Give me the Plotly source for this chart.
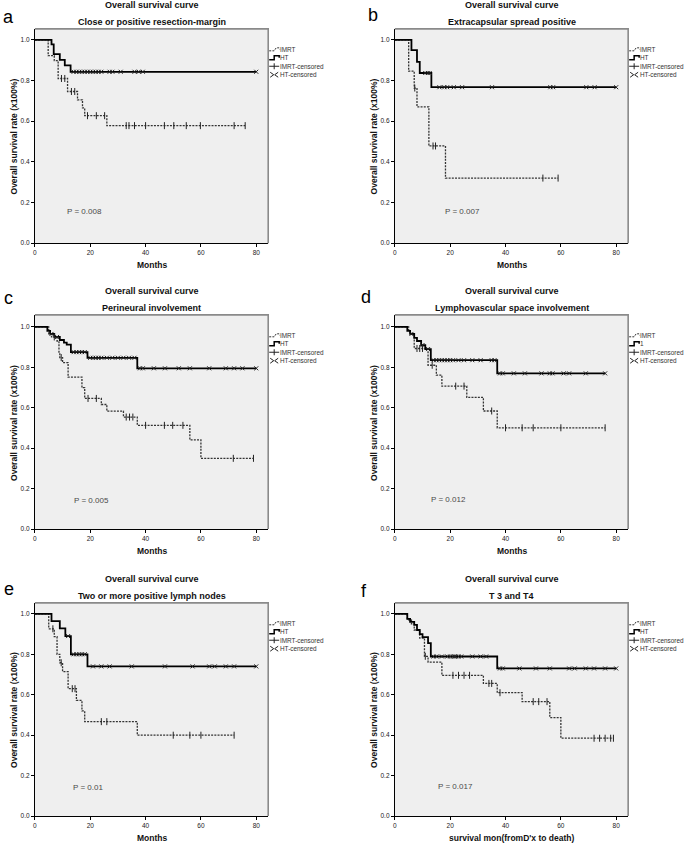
import plotly.graph_objects as go

W, H = 685, 848

# ---------------- data ----------------
# Panel a: Close or positive resection-margin
A_HT_T = [0, 6, 6.8, 9, 10.8, 12.9, 80]
A_HT_S = [1, 0.978, 0.93, 0.902, 0.874, 0.843, 0.843]
A_HT_C = [14, 15, 16, 17, 18, 19, 20, 21, 22, 23, 24, 27, 28, 31, 36, 37.5, 39, 80]
A_IM_T = [0, 4.8, 7, 8.4, 11.8, 15.4, 17.2, 18, 26, 76]
A_IM_S = [1, 0.922, 0.898, 0.81, 0.746, 0.705, 0.665, 0.627, 0.578, 0.578]
A_IM_C = [9.6, 10.8, 13.2, 14.4, 19, 22.2, 25.2, 33, 34, 36, 40, 46.8, 50.2, 54.7, 59.8, 72, 76]

# Panel b: Extracapsular spread positive
B_HT_T = [0, 6, 8, 9, 13.2, 80]
B_HT_S = [1, 0.95, 0.892, 0.837, 0.767, 0.767]
B_HT_C = [11, 11.9, 12.6, 16.1, 17.9, 18.9, 21.3, 24.3, 35.1, 56.2, 57.2, 69.2, 72.2, 80]
B_IM_T = [0, 5, 7, 8, 12.3, 18.3, 59]
B_IM_S = [1, 0.846, 0.763, 0.67, 0.478, 0.32, 0.32]
B_IM_C = [7.2, 13.8, 14.7, 53.5, 59]

# Panel c: Perineural involvement
C_HT_T = [0, 4.5, 5.5, 7, 9, 10.5, 11.5, 13, 19, 37, 80]
C_HT_S = [1, 0.98, 0.965, 0.95, 0.935, 0.922, 0.912, 0.875, 0.847, 0.795, 0.795]
C_HT_C = [6, 8, 14, 15, 16, 17, 18, 20, 21, 22, 23, 24, 26, 28, 30, 32, 34, 36,
          38, 39, 43, 47, 52, 56, 63, 69, 72, 75, 80]
C_IM_T = [0, 5, 6, 8, 8.7, 9, 10, 12, 17, 18, 24, 26, 32, 37, 56, 60, 79]
C_IM_S = [1, 0.965, 0.95, 0.93, 0.875, 0.848, 0.823, 0.751, 0.699, 0.646, 0.616,
          0.583, 0.554, 0.513, 0.441, 0.35, 0.35]
C_IM_C = [7, 9.5, 19.2, 22.2, 33, 34.2, 35.4, 40, 46.8, 49.8, 53.5, 71.7, 79]

# Panel d: Lymphovascular space involvement
D_HT_T = [0, 4.5, 5.5, 7, 8, 9.5, 11, 13, 37, 76]
D_HT_S = [1, 0.98, 0.965, 0.945, 0.93, 0.91, 0.89, 0.835, 0.77, 0.77]
D_HT_C = [6, 10, 12, 14, 15, 16, 17, 18, 19, 20, 21, 23, 25, 28, 31, 35, 36,
          38, 39, 43, 47, 53, 56, 57, 61, 63, 69, 76]
D_IM_T = [0, 5, 6, 7, 12, 15, 17, 26, 32, 37, 76]
D_IM_S = [1, 0.975, 0.96, 0.893, 0.81, 0.761, 0.707, 0.651, 0.584, 0.501, 0.501]
D_IM_C = [8, 9, 10, 13.5, 22, 25, 35, 40, 46, 50, 60, 76]

# Panel e: Two or more positive lymph nodes
E_HT_T = [0, 6, 9, 11, 13, 19, 80]
E_HT_S = [1, 0.964, 0.928, 0.89, 0.80, 0.74, 0.74]
E_HT_C = [12, 14, 15, 16, 17, 18, 21, 24, 27, 35, 47, 57, 63, 65, 69, 72, 80]
E_IM_T = [0, 5, 7, 8, 9, 10, 12, 15, 17, 18, 37, 72]
E_IM_S = [1, 0.926, 0.887, 0.80, 0.758, 0.714, 0.63, 0.572, 0.52, 0.467, 0.40, 0.40]
E_IM_C = [6.5, 9.5, 13.5, 14.5, 24, 26, 50, 56, 60, 72]

# Panel f: T3 and T4
F_HT_T = [0, 4.5, 5.5, 7, 8, 9, 10, 12, 13, 37, 80]
F_HT_S = [1, 0.975, 0.96, 0.945, 0.92, 0.90, 0.885, 0.855, 0.789, 0.73, 0.73]
F_HT_C = [14, 15, 17, 19, 20, 21, 21.5, 22, 23, 24, 28, 31, 33, 38, 39, 45, 51,
          56, 63, 65, 69, 72, 76, 80]
F_IM_T = [0, 4.5, 6, 7, 9, 10.7, 12, 17, 32, 37, 46, 56, 60, 79]
F_IM_S = [1, 0.97, 0.95, 0.92, 0.88, 0.79, 0.761, 0.696, 0.656, 0.61, 0.566,
          0.487, 0.385, 0.385]
F_IM_C = [11, 21, 23, 25, 27, 34, 35, 38, 50, 52, 55, 72, 74, 76, 78, 79]

LETTERS = ["a", "b", "c", "d", "e", "f"]
SUBTITLES = ["Close or positive resection-margin", "Extracapsular spread positive",
             "Perineural involvement", "Lymphovascular space involvement",
             "Two or more positive lymph nodes", "T 3 and T4"]
P_TEXT = ["P = 0.008", "P = 0.007", "P = 0.005", "P = 0.012", "P = 0.01", "P = 0.017"]
X_TITLES = ["Months", "Months", "Months", "Months", "Months", "survival mon(fromD'x to death)"]
LEGEND_NAMES = [["IMRT", "HT", "IMRT-censored", "HT-censored"]] * 3 + \
               [["IMRT", "1", "IMRT-censored", "HT-censored"]] + \
               [["IMRT", "HT", "IMRT-censored", "HT-censored"]] * 2
X_TICKS = [0, 20, 40, 60, 80]
Y_TICKS = [0.0, 0.2, 0.4, 0.6, 0.8, 1.0]

PANELS = [
    (A_IM_T, A_IM_S, A_IM_C, A_HT_T, A_HT_S, A_HT_C),
    (B_IM_T, B_IM_S, B_IM_C, B_HT_T, B_HT_S, B_HT_C),
    (C_IM_T, C_IM_S, C_IM_C, C_HT_T, C_HT_S, C_HT_C),
    (D_IM_T, D_IM_S, D_IM_C, D_HT_T, D_HT_S, D_HT_C),
    (E_IM_T, E_IM_S, E_IM_C, E_HT_T, E_HT_S, E_HT_C),
    (F_IM_T, F_IM_S, F_IM_C, F_HT_T, F_HT_S, F_HT_C),
]

# ---------------- layout geometry (pixels) ----------------
COL_X = [(33, 267), (394, 628)]
ROW_Y = [(29, 244), (316, 531), (605, 819)]   # (top of box, y=0 line)
Y_ONE = [40, 328, 616]                        # pixel of y=1.0
P_POS = [(17.8, 0.157), (24.3, 0.157), (20.4, 0.143), (19.5, 0.148), (19.1, 0.143), (22.0, 0.148)]
LETTER_POS = [(7, 17), (372, 15), (7, 299), (365, 298), (7, 591), (363, 593)]

FONT = "Liberation Sans, Arial, sans-serif"
BG = "#efefef"
DOTTED = "2px,1.2px"


def px(x):
    return x / W


def py(y):
    return 1 - y / H


def step_at(T, S, t):
    v = S[0]
    for ti, si in zip(T, S):
        if ti <= t:
            v = si
    return v


fig = go.Figure()
shapes = []
annotations = []
layout = {}

for i, (imT, imS, imC, htT, htS, htC) in enumerate(PANELS):
    r, c = divmod(i, 2)
    n = "" if i == 0 else str(i + 1)
    xa, ya = "x" + n, "y" + n
    x0, x1 = COL_X[c]
    ytop, y0 = ROW_Y[r]
    y1 = Y_ONE[r]
    xmax = (x1 - x0) / 2.775
    ymax = (y0 - ytop) / (y0 - y1)

    layout["xaxis" + n] = dict(
        domain=[px(x0), px(x1)], range=[0, xmax], anchor=ya,
        tickvals=X_TICKS, ticks="outside", ticklen=3, tickcolor="#000",
        showline=True, linecolor="#000", linewidth=1, showgrid=False, zeroline=False,
        tickfont=dict(size=6.5, color="#222", family=FONT), fixedrange=True)
    layout["yaxis" + n] = dict(
        domain=[py(y0), py(ytop)], range=[0, ymax], anchor=xa,
        tickvals=Y_TICKS, tickformat=".1f", ticks="outside", ticklen=3, tickcolor="#000",
        showline=True, linecolor="#000", linewidth=1, showgrid=False, zeroline=False,
        tickfont=dict(size=6.5, color="#222", family=FONT), fixedrange=True)

    # plot box background + border
    shapes.append(dict(type="rect", xref="paper", yref="paper",
                       x0=px(x0), x1=px(x1), y0=py(y0), y1=py(ytop),
                       fillcolor=BG, line=dict(width=0), layer="below"))
    shapes.append(dict(type="path", xref="paper", yref="paper",
                       path=f"M {px(x0)},{py(ytop)} L {px(x1)},{py(ytop)} L {px(x1)},{py(y0)}",
                       line=dict(color="#8a8a8a", width=1.6), layer="above"))

    # curves
    fig.add_trace(go.Scatter(x=imT, y=imS, mode="lines", line_shape="hv",
                             line=dict(color="#333", width=1.3, dash=DOTTED),
                             xaxis=xa, yaxis=ya, showlegend=False, hoverinfo="skip"))
    fig.add_trace(go.Scatter(x=htT, y=htS, mode="lines", line_shape="hv",
                             line=dict(color="#000", width=1.8),
                             xaxis=xa, yaxis=ya, showlegend=False, hoverinfo="skip"))
    fig.add_trace(go.Scatter(x=imC, y=[step_at(imT, imS, t) for t in imC], mode="markers",
                             marker=dict(symbol="line-ns", size=5, line=dict(color="#222", width=1)),
                             xaxis=xa, yaxis=ya, showlegend=False, hoverinfo="skip"))
    fig.add_trace(go.Scatter(x=htC, y=[step_at(htT, htS, t) for t in htC], mode="markers",
                             marker=dict(symbol="x-thin", size=4, line=dict(color="#222", width=1)),
                             xaxis=xa, yaxis=ya, showlegend=False, hoverinfo="skip"))

    cx = (x0 + x1) / 2
    # titles
    annotations.append(dict(x=px(cx), y=py(ytop - 23.5), xref="paper", yref="paper",
                            text="<b>Overall survival curve</b>", showarrow=False,
                            font=dict(size=9, color="#111", family=FONT),
                            xanchor="center", yanchor="middle"))
    annotations.append(dict(x=px(cx), y=py(ytop - 7), xref="paper", yref="paper",
                            text="<b>" + SUBTITLES[i] + "</b>", showarrow=False,
                            font=dict(size=9, color="#111", family=FONT),
                            xanchor="center", yanchor="middle"))
    # panel letter
    lx, ly = LETTER_POS[i]
    annotations.append(dict(x=px(lx), y=py(ly), xref="paper", yref="paper",
                            text=LETTERS[i], showarrow=False,
                            font=dict(size=18, color="#000", family=FONT),
                            xanchor="center", yanchor="middle"))
    # axis titles
    annotations.append(dict(x=px(cx), y=py(y0 + 22), xref="paper", yref="paper",
                            text="<b>" + X_TITLES[i] + "</b>", showarrow=False,
                            font=dict(size=8.5, color="#111", family=FONT),
                            xanchor="center", yanchor="middle"))
    annotations.append(dict(x=px(x0 - 21), y=py((y0 + y1) / 2 - 5), xref="paper", yref="paper",
                            text="<b>Overall survival rate (x100%)</b>", showarrow=False,
                            textangle=-90, font=dict(size=8.5, color="#111", family=FONT),
                            xanchor="center", yanchor="middle"))
    # P value
    annotations.append(dict(x=P_POS[i][0], y=P_POS[i][1], xref=xa, yref=ya,
                            text=P_TEXT[i], showarrow=False,
                            font=dict(size=8, color="#4a4a4a", family=FONT),
                            xanchor="center", yanchor="middle"))

    # legend (glyphs + text)
    gx = x1 + 1
    tx = gx + 10
    rows = [ytop + 20.5 + k * 8.5 for k in range(4)]
    g0, g1, g2, g3 = rows
    shapes.append(dict(type="path", xref="paper", yref="paper",
                       path=f"M {px(gx)},{py(g0+1.5)} L {px(gx+5)},{py(g0+1.5)} L {px(gx+7)},{py(g0-1.5)} L {px(gx+10)},{py(g0-1.5)} L {px(gx+10.5)},{py(g0)}",
                       line=dict(color="#333", width=1, dash=DOTTED)))
    shapes.append(dict(type="path", xref="paper", yref="paper",
                       path=f"M {px(gx)},{py(g1+2)} L {px(gx+5)},{py(g1+2)} L {px(gx+5)},{py(g1-2)} L {px(gx+10)},{py(g1-2)} L {px(gx+10)},{py(g1)}",
                       line=dict(color="#000", width=1.5)))
    shapes.append(dict(type="path", xref="paper", yref="paper",
                       path=f"M {px(gx)},{py(g2)} L {px(gx+10)},{py(g2)} M {px(gx+5)},{py(g2-3)} L {px(gx+5)},{py(g2+3)}",
                       line=dict(color="#222", width=1)))
    shapes.append(dict(type="path", xref="paper", yref="paper",
                       path=f"M {px(gx+1)},{py(g3-2.5)} L {px(gx+4.5)},{py(g3)} L {px(gx+1)},{py(g3+2.5)} M {px(gx+9)},{py(g3-2.5)} L {px(gx+5.5)},{py(g3)} L {px(gx+9)},{py(g3+2.5)}",
                       line=dict(color="#222", width=1)))
    for k, name in enumerate(LEGEND_NAMES[i]):
        annotations.append(dict(x=px(tx), y=py(rows[k]), xref="paper", yref="paper",
                                text=name, showarrow=False, borderpad=0,
                                font=dict(size=6.4, color="#333", family=FONT),
                                xanchor="left", yanchor="middle"))

fig.update_layout(
    width=W, height=H,
    margin=dict(l=0, r=0, t=0, b=0),
    paper_bgcolor="white", plot_bgcolor="rgba(0,0,0,0)",
    showlegend=False,
    shapes=shapes, annotations=annotations,
    **layout,
)

fig.write_html("out.html", config={"displayModeBar": False},
               post_script="document.body.style.margin='0';document.body.style.overflow='hidden';")
